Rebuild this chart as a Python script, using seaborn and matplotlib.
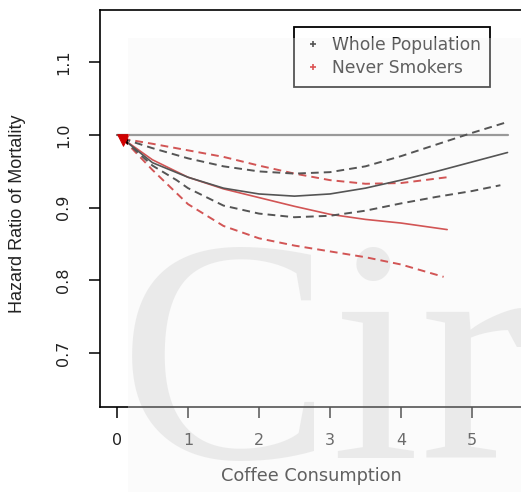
import numpy as np
import pandas as pd
import matplotlib
matplotlib.use("Agg")
import matplotlib.pyplot as plt
import seaborn as sns
from matplotlib.patches import Rectangle
from matplotlib.lines import Line2D

# ---------------- data ----------------
whole_x = [0.08, 0.5, 1.0, 1.5, 2.0, 2.5, 3.0, 3.5, 4.0, 4.5, 5.0, 5.5]
whole_hr = [0.995, 0.962, 0.942, 0.927, 0.919, 0.916, 0.919, 0.927, 0.938, 0.950, 0.963, 0.976]
whole_hi = [0.995, 0.982, 0.968, 0.957, 0.950, 0.947, 0.949, 0.957, 0.971, 0.987, 1.003, 1.018]
whole_lo_x = [0.08, 0.5, 0.84, 1.0, 1.5, 2.0, 2.5, 3.0, 3.5, 4.0, 4.5, 5.0, 5.4]
whole_lo = [0.995, 0.958, 0.938, 0.927, 0.903, 0.892, 0.887, 0.889, 0.896, 0.906, 0.915, 0.923, 0.931]

never_x = [0.08, 0.5, 1.0, 1.5, 2.0, 2.5, 3.0, 3.5, 4.0, 4.65]
never_hr = [0.995, 0.966, 0.942, 0.926, 0.914, 0.902, 0.891, 0.884, 0.879, 0.870]
never_hi = [0.995, 0.988, 0.979, 0.970, 0.958, 0.947, 0.938, 0.933, 0.934, 0.942]
never_lo_x = [0.08, 0.5, 1.0, 1.5, 2.0, 2.5, 3.0, 3.5, 4.0, 4.6]
never_lo = [0.995, 0.952, 0.905, 0.875, 0.858, 0.848, 0.840, 0.832, 0.822, 0.805]

ref_x = [0.0, 5.5]
ref_y = [1.0, 1.0]
start_x = [0.08]
start_y = [0.993]

x_ticks = [0, 1, 2, 3, 4, 5]
y_ticks = [0.7, 0.8, 0.9, 1.0, 1.1]
y_tick_labels = ["0.7", "0.8", "0.9", "1.0", "1.1"]
series_labels = ["Whole Population", "Never Smokers"]
x_label = "Coffee Consumption"
y_label = "Hazard Ratio of Mortality"

# ---------------- long-form table ----------------
rows = []
def add(name, band, xs, ys):
    for xv, yv in zip(xs, ys):
        rows.append({"series": name, "band": band, "coffee": xv, "hr": yv})

add("whole", "est", whole_x, whole_hr)
add("whole", "hi", whole_x, whole_hi)
add("whole", "lo", whole_lo_x, whole_lo)
add("never", "est", never_x, never_hr)
add("never", "hi", never_x, never_hi)
add("never", "lo", never_lo_x, never_lo)
df = pd.DataFrame(rows)

sns.set_theme(style="white")
plt.rcParams["font.family"] = ["DejaVu Sans"]

W, H = 521, 492
fig = plt.figure(figsize=(W / 100, H / 100), dpi=100)
fig.patch.set_facecolor("white")
ax = fig.add_axes([100 / W, 1 - 407 / H, 421 / W, 397 / H])
ax.set_facecolor("none")

colors = {"whole": "#000000", "never": "#c00000"}

# reference line
sns.lineplot(x=ref_x, y=ref_y, ax=ax, color="#696969", lw=1.6, legend=False)

for (series, band), sub in df.groupby(["series", "band"]):
    if band == "est":
        sns.lineplot(data=sub, x="coffee", y="hr", ax=ax, color=colors[series],
                     lw=1.2, sort=False, estimator=None, legend=False)
    else:
        sns.lineplot(data=sub, x="coffee", y="hr", ax=ax, color=colors[series],
                     lw=1.4, linestyle=(0, (4, 2.6)), sort=False,
                     estimator=None, legend=False)

sns.scatterplot(x=start_x, y=start_y, ax=ax, marker="v", s=70,
                color="#d00000", edgecolor="#d00000", legend=False, zorder=4)

ax.set_xlim(-0.239, 5.69)
ax.set_ylim(0.626, 1.172)
ax.set_xticks(x_ticks)
ax.set_xticklabels([str(t) for t in x_ticks])
ax.set_yticks(y_ticks)
ax.set_yticklabels(y_tick_labels)

ax.tick_params(axis="both", direction="out", length=8, width=1.1,
               color="black", labelsize=11.5, labelcolor="#222222")
ax.tick_params(axis="x", pad=11, bottom=True)
ax.tick_params(axis="y", pad=13, left=True, labelrotation=90)
for lbl in ax.get_yticklabels():
    lbl.set_va("center")

for side in ["left", "top", "bottom"]:
    ax.spines[side].set_visible(True)
    ax.spines[side].set_color("black")
    ax.spines[side].set_linewidth(1.2)
ax.spines["right"].set_visible(False)

ax.set_xlabel(x_label, fontsize=12.8, color="#111111")
ax.xaxis.set_label_coords(0.501, -0.151)
ax.set_ylabel(y_label, fontsize=13, family=["Liberation Sans", "DejaVu Sans"],
              color="#222222")
ax.yaxis.set_label_coords(-0.176, 0.486)

handles = [
    Line2D([], [], ls="none", marker="+", color="black", ms=5, mew=1.2),
    Line2D([], [], ls="none", marker="+", color="#d00000", ms=5, mew=1.2),
]
leg = ax.legend(handles, series_labels, loc="upper left",
                bbox_to_anchor=(294 / W, 1 - 27 / H), bbox_transform=fig.transFigure,
                frameon=True, fancybox=False, edgecolor="black", framealpha=1,
                fontsize=12.3, handlelength=1.08, handletextpad=0.6,
                borderpad=0.55, labelspacing=0.28, borderaxespad=0)
leg.get_frame().set_linewidth(1.3)
for t in leg.get_texts():
    t.set_color("#111111")

# watermark (behind everything) and translucent overlay (on top)
fig.text(119 / W, 1 - 458 / H, "Cir", fontsize=230,
         family=["Liberation Serif", "DejaVu Serif"], color="#e6e6e6",
         ha="left", va="baseline", zorder=-1)
fig.add_artist(Rectangle((128 / W, 0), (W - 128) / W, (H - 38) / H,
                         transform=fig.transFigure, facecolor="#f4f4f4",
                         alpha=0.35, edgecolor="none", zorder=5))

fig.savefig("out.png", dpi=100)
